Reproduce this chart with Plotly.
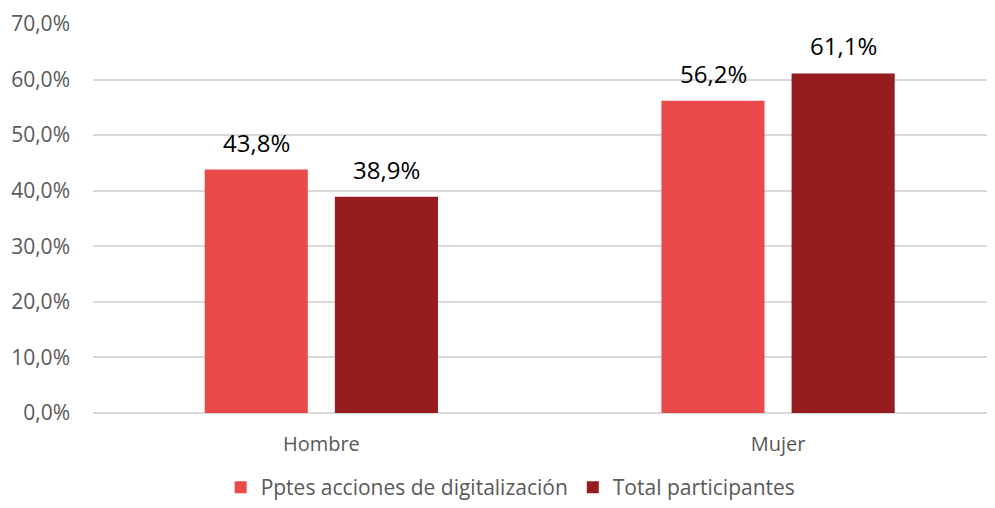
import plotly.graph_objects as go

categories = ["Hombre", "Mujer"]
series_names = ["Pptes acciones de digitalización", "Total participantes"]
pptes = [43.8, 56.2]
total = [38.9, 61.1]
tick_vals = [0, 10, 20, 30, 40, 50, 60, 70]
tick_text = ["0,0%", "10,0%", "20,0%", "30,0%", "40,0%", "50,0%", "60,0%", "70,0%"]

colors = ["#E84A4A", "#951D1F"]
FONT = "Open Sans"

fig = go.Figure()
for name, vals, col in zip(series_names, [pptes, total], colors):
    fig.add_trace(go.Bar(
        x=categories, y=vals, name=name,
        marker=dict(color=col, line=dict(width=0)),
        hoverinfo="skip",
    ))

def fmt(v):
    return f"{v:.1f}".replace(".", ",") + "%"

for vals, shift in zip([pptes, total], [-65, 65]):
    for c, v in zip(categories, vals):
        fig.add_annotation(
            x=c, y=v, xref="x", yref="y", text=fmt(v), showarrow=False,
            xshift=shift, yanchor="bottom", yshift=9,
            font=dict(family=FONT, size=24, color="#000000"),
        )

fig.update_layout(
    width=987, height=500,
    margin=dict(l=85, r=0, t=16, b=95, autoexpand=False),
    paper_bgcolor="white", plot_bgcolor="white",
    barmode="group", bargap=0.43, bargroupgap=0.208,
    font=dict(family=FONT, size=20, color="#595959"),
    showlegend=True,
    legend=dict(orientation="h", x=0.463, xanchor="center",
                yref="container", y=-0.012, yanchor="bottom",
                font=dict(family=FONT, size=21, color="#595959"),
                itemclick=False, itemdoubleclick=False),
    xaxis=dict(type="category", range=[-0.5, 1.475], showgrid=False, showline=False,
               zeroline=False, ticks="", ticklabelstandoff=17, automargin=False,
               tickfont=dict(family=FONT, size=20, color="#595959")),
    yaxis=dict(range=[0, 70], tickvals=tick_vals, ticktext=tick_text,
               showgrid=True, gridcolor="#D9D9D9", gridwidth=1.5,
               zeroline=True, zerolinecolor="#D9D9D9", zerolinewidth=1.5,
               showline=False, ticks="", ticklabelstandoff=22, automargin=False,
               tickfont=dict(family=FONT, size=21, color="#595959")),
)

fig.write_html("out.html")
